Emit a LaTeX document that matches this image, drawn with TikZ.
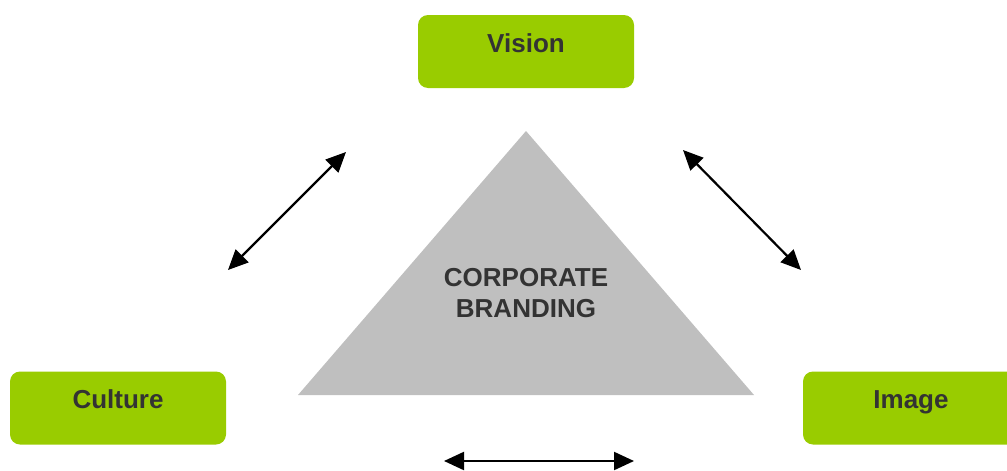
\documentclass[tikz,border=0pt]{standalone}
\usepackage{fontspec}
\setmainfont{Liberation Sans}
\usetikzlibrary{arrows.meta}
\definecolor{leaf}{HTML}{99CC00}
\definecolor{ink}{HTML}{333333}
\definecolor{stone}{HTML}{BFBFBF}
\begin{document}
\begin{tikzpicture}[x=1pt,y=-1pt,
  pillar/.style={fill=leaf, rounded corners=10pt, minimum width=216pt, minimum height=73pt,
    inner sep=0pt, text=ink, font=\fontsize{26}{30}\selectfont\bfseries},
  link/.style={line width=2.2pt, {Triangle[length=20pt,width=18pt]}-{Triangle[length=20pt,width=18pt]}}]
  \useasboundingbox (0,0) rectangle (1007,471);
  \clip (0,0) rectangle (1007,471);
  % three pillars
  \node[pillar] (vision)  at (526,51.5) {\raisebox{17pt}{Vision}};
  \node[pillar] (culture) at (118,408)  {\raisebox{17pt}{Culture}};
  \node[pillar] (image)   at (911,408)  {\raisebox{17pt}{Image}};
  % central triangle
  \coordinate (apex) at (526,131);
  \coordinate (bl) at (298,395);
  \coordinate (br) at (754,395);
  \fill[stone] (apex) -- (br) -- (bl) -- cycle;
  \node[text=ink, align=center, font=\fontsize{26}{31}\selectfont\bfseries] (brand) at (526,293) {CORPORATE\\BRANDING};
  % double-headed links
  \coordinate (lA) at (228,270);
  \coordinate (lB) at (346,152);
  \coordinate (rA) at (683,150);
  \coordinate (rB) at (801,270);
  \coordinate (bA) at (444,461);
  \coordinate (bB) at (634,461);
  \draw[link] (lA) -- (lB);
  \draw[link] (rA) -- (rB);
  \draw[link] (bA) -- (bB);
\end{tikzpicture}
\end{document}
